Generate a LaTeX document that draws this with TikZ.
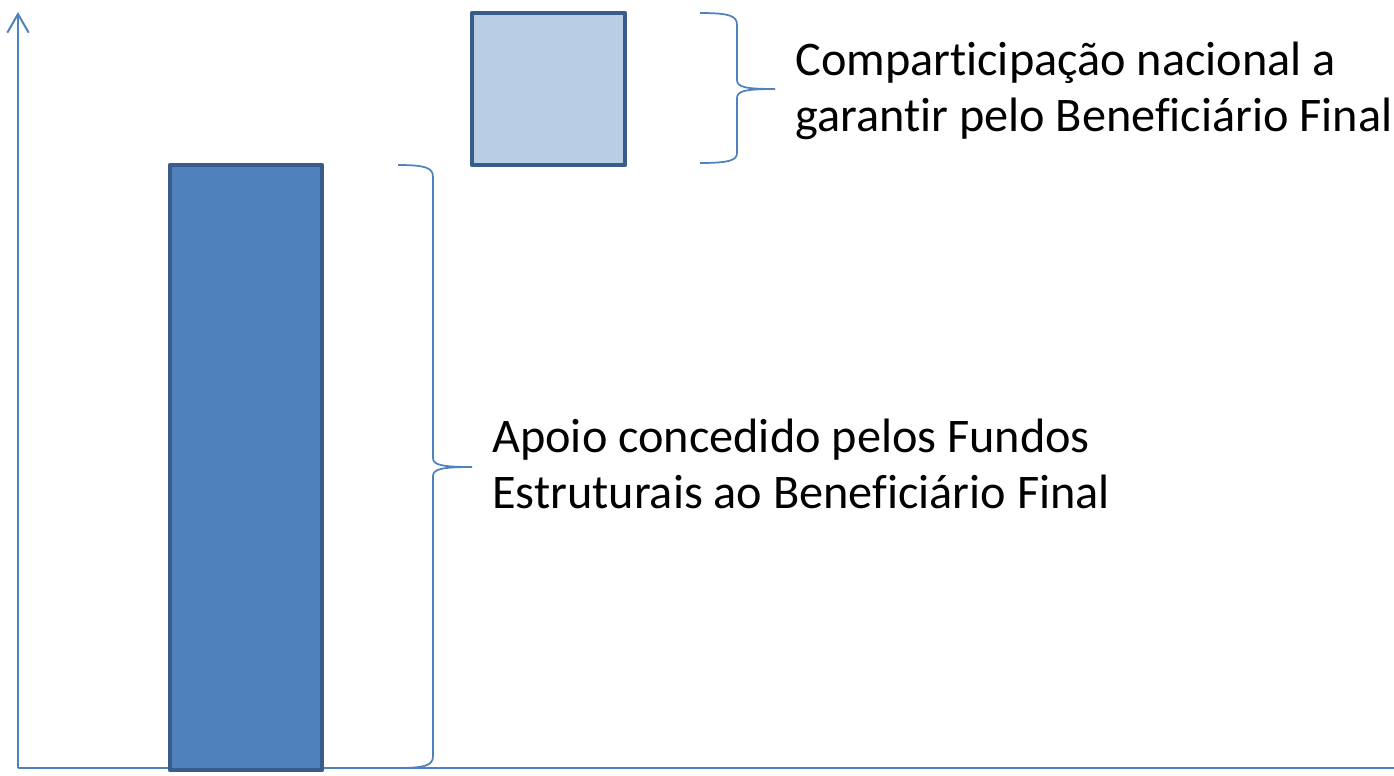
\documentclass[tikz,border=0pt]{standalone}
\usepackage{fontspec}
\setmainfont{Carlito}[Ligatures=NoCommon]
\usetikzlibrary{arrows.meta}
\definecolor{axisblue}{HTML}{4F81BD}
\definecolor{barfill}{HTML}{4F81BD}
\definecolor{barline}{HTML}{385D8A}
\definecolor{lightfill}{HTML}{B9CDE5}
\begin{document}
\begin{tikzpicture}[x=0.75pt,y=-0.75pt,
  axisline/.style={draw=axisblue,line width=1.5pt},
  barbox/.style={draw=barline,line width=3.6pt,line join=round},
  bracestyle/.style={draw=axisblue,line width=1.3pt},
  label/.style={anchor=west,align=left,inner sep=0pt,font=\fontsize{36.2}{42.5}\selectfont,text=black}]
\useasboundingbox (0,0) rectangle (1394,775);
\coordinate (o) at (18,768);
\coordinate (yt) at (18,12);
\coordinate (xe) at (1394,768);
\draw[axisline,-{Straight Barb[length=14pt,width=16pt,line width=1.5pt]}] (o) -- (yt);
\draw[axisline] (o) -- (xe);
\node[barbox,fill=barfill,minimum width=152*0.75pt,minimum height=605*0.75pt,inner sep=0pt] (bar) at (246,467.5) {};
\node[barbox,fill=lightfill,minimum width=153*0.75pt,minimum height=152*0.75pt,inner sep=0pt] (box) at (548.5,89) {};
% top brace
\coordinate (b1t) at (700,13);
\coordinate (b1b) at (700,163);
\coordinate (b1tip) at (775,89);
\draw[bracestyle] (b1t) .. controls (730,13) and (737,16) .. (737,25) -- (737,80) .. controls (737,87) and (745,89) .. (b1tip)
  .. controls (745,89) and (737,91) .. (737,98) -- (737,153) .. controls (737,160) and (730,163) .. (b1b);
% bottom brace
\coordinate (b2t) at (398,165);
\coordinate (b2b) at (398,768);
\coordinate (b2tip) at (472,467);
\draw[bracestyle] (b2t) .. controls (426,165) and (433,168) .. (433,177) -- (433,458) .. controls (433,465) and (442,467) .. (b2tip)
  .. controls (442,467) and (433,469) .. (433,476) -- (433,756) .. controls (433,765) and (426,768) .. (b2b);
\node[label] (t1) at (795,91) {Comparticipação nacional a\\garantir pelo Beneficiário Final};
\node[label] (t2) at (492,464) {Apoio concedido pelos Fundos\\Estruturais ao Beneficiário Final};
\end{tikzpicture}
\end{document}
